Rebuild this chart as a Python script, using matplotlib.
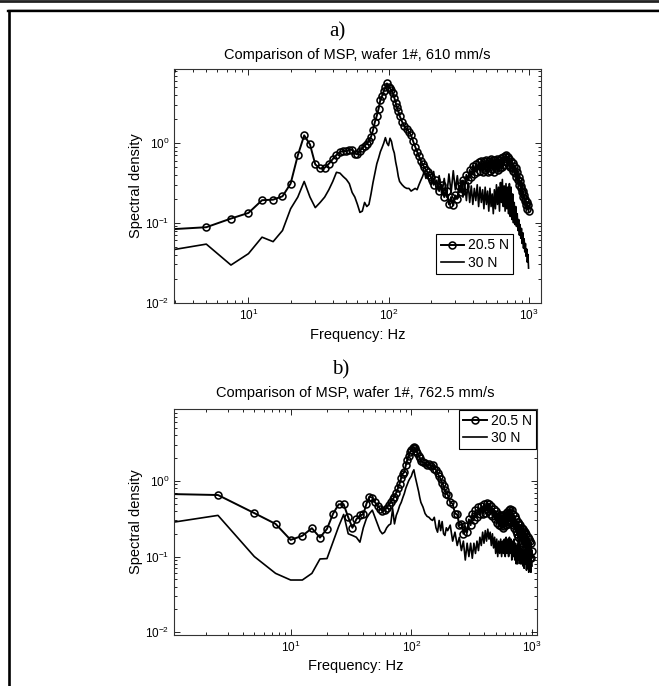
import numpy as np
import matplotlib.pyplot as plt
from matplotlib.lines import Line2D
from matplotlib.ticker import LogLocator, NullFormatter

plt.rcParams['font.family'] = ['Liberation Sans', 'DejaVu Sans']
plt.rcParams['mathtext.fontset'] = 'custom'
plt.rcParams['mathtext.rm'] = 'Liberation Sans'
plt.rcParams['mathtext.default'] = 'regular'

# frequency bins (Hz): fine bins at low f, coarser in the noisy part
freq_lo = np.arange(2.5, 122.5, 2.5)
freq_mid = np.arange(125, 200, 5)
freq_hi = np.arange(200, 1001, 10)
freq_a = np.concatenate([freq_lo, freq_mid, freq_hi])
freq_b = np.concatenate([[1.0], freq_lo, freq_mid, freq_hi])

labels = ["20.5 N", "30 N"]
titles = ["Comparison of MSP, wafer 1#, 610 mm/s",
          "Comparison of MSP, wafer 1#, 762.5 mm/s"]
panel_tags = ["a)", "b)"]

# ---- a) 610 mm/s ----
a_205 = [
    # 2.5 .. 120 Hz
    0.082, 0.088, 0.113, 0.133, 0.192, 0.195, 0.215, 0.31, 0.70, 1.25,
    0.96, 0.54, 0.48, 0.49, 0.55, 0.63, 0.71, 0.77, 0.80, 0.79,
    0.83, 0.82, 0.74, 0.72, 0.80, 0.86, 0.93, 0.98, 1.06, 1.20,
    1.45, 1.85, 2.20, 2.70, 3.50, 3.90, 4.50, 5.00, 5.60, 5.10,
    4.90, 4.60, 4.20, 3.70, 3.20, 2.80, 2.50, 2.20,
    # 125 .. 195 Hz
    1.85, 1.62, 1.50, 1.38, 1.25, 1.05, 0.90, 0.78, 0.68, 0.60,
    0.54, 0.50, 0.46, 0.43, 0.40,
    # 200 .. 1000 Hz
    0.38, 0.30, 0.34, 0.25, 0.30, 0.21, 0.25, 0.17, 0.21, 0.165,
    0.22, 0.20, 0.29, 0.24, 0.34, 0.29, 0.40, 0.34, 0.46, 0.38,
    0.52, 0.41, 0.55, 0.44, 0.58, 0.45, 0.60, 0.44, 0.59, 0.46,
    0.62, 0.44, 0.60, 0.45, 0.63, 0.47, 0.61, 0.43, 0.62, 0.48,
    0.64, 0.46, 0.62, 0.49, 0.65, 0.50, 0.66, 0.53, 0.69, 0.71,
    0.58, 0.67, 0.53, 0.63, 0.50, 0.59, 0.48, 0.56, 0.45, 0.51,
    0.42, 0.48, 0.38, 0.43, 0.34, 0.38, 0.30, 0.33, 0.27, 0.29,
    0.24, 0.25, 0.21, 0.22, 0.185, 0.20, 0.165, 0.18, 0.15, 0.165,
    0.14,
]
a_30 = [
    0.044, 0.054, 0.0295, 0.041, 0.066, 0.058, 0.080, 0.150, 0.21, 0.33,
    0.21, 0.155, 0.18, 0.21, 0.26, 0.33, 0.43, 0.42, 0.38, 0.35,
    0.31, 0.24, 0.21, 0.17, 0.135, 0.14, 0.18, 0.16, 0.17, 0.23,
    0.32, 0.42, 0.55, 0.65, 0.78, 0.88, 1.00, 1.17, 1.00, 0.93,
    1.15, 1.05, 0.85, 0.75, 0.58, 0.48, 0.38, 0.33,
    0.30, 0.28, 0.27, 0.27, 0.25, 0.26, 0.27, 0.26, 0.30, 0.34,
    0.38, 0.44, 0.36, 0.40, 0.33,
    0.30, 0.44, 0.25, 0.39, 0.23, 0.36, 0.21, 0.41, 0.24, 0.45,
    0.26, 0.39, 0.24, 0.34, 0.21, 0.31, 0.19, 0.32, 0.18, 0.29,
    0.17, 0.27, 0.19, 0.30, 0.16, 0.28, 0.18, 0.26, 0.15, 0.28,
    0.17, 0.25, 0.14, 0.27, 0.16, 0.23, 0.13, 0.26, 0.15, 0.30,
    0.17, 0.28, 0.14, 0.32, 0.18, 0.35, 0.16, 0.29, 0.14, 0.31,
    0.15, 0.28, 0.13, 0.31, 0.12, 0.28, 0.11, 0.23, 0.10, 0.18,
    0.095, 0.16, 0.09, 0.13, 0.08, 0.11, 0.07, 0.095, 0.064, 0.085,
    0.055, 0.075, 0.048, 0.063, 0.043, 0.055, 0.038, 0.047, 0.032, 0.04,
    0.027,
]

# ---- b) 762.5 mm/s ----
b_205 = [
    0.67,
    0.65, 0.375, 0.27, 0.166, 0.188, 0.237, 0.178, 0.232, 0.37, 0.49,
    0.49, 0.33, 0.24, 0.31, 0.35, 0.36, 0.50, 0.62, 0.60, 0.52,
    0.47, 0.43, 0.40, 0.41, 0.44, 0.48, 0.52, 0.57, 0.62, 0.70,
    0.80, 0.92, 1.10, 1.25, 1.30, 1.60, 1.90, 2.10, 2.40, 2.55,
    2.70, 2.80, 2.70, 2.50, 2.30, 2.15, 2.00, 1.85,
    1.75, 1.70, 1.62, 1.68, 1.58, 1.62, 1.45, 1.40, 1.28, 1.15,
    1.05, 0.95, 0.85, 0.75, 0.68,
    0.66, 0.52, 0.50, 0.37, 0.36, 0.26, 0.27, 0.20, 0.25, 0.21,
    0.31, 0.26, 0.37, 0.30, 0.41, 0.33, 0.45, 0.36, 0.47, 0.37,
    0.49, 0.38, 0.51, 0.40, 0.50, 0.37, 0.46, 0.34, 0.43, 0.31,
    0.40, 0.28, 0.37, 0.26, 0.35, 0.25, 0.34, 0.24, 0.35, 0.25,
    0.37, 0.26, 0.39, 0.27, 0.41, 0.29, 0.42, 0.28, 0.41, 0.26,
    0.37, 0.24, 0.34, 0.22, 0.31, 0.20, 0.29, 0.18, 0.27, 0.17,
    0.26, 0.16, 0.24, 0.15, 0.23, 0.14, 0.22, 0.13, 0.21, 0.125,
    0.20, 0.115, 0.18, 0.11, 0.17, 0.105, 0.16, 0.095, 0.15, 0.095,
    0.12,
]
b_30 = [
    0.28,
    0.35, 0.10, 0.060, 0.049, 0.049, 0.060, 0.093, 0.094, 0.158, 0.25,
    0.36, 0.20, 0.19, 0.18, 0.155, 0.24, 0.32, 0.37, 0.41, 0.33,
    0.27, 0.22, 0.20, 0.21, 0.24, 0.26, 0.27, 0.43, 0.27, 0.35,
    0.40, 0.47, 0.52, 0.60, 0.68, 0.80, 0.90, 1.00, 1.08, 1.15,
    1.30, 1.40, 1.15, 0.98, 0.85, 0.72, 0.60, 0.52,
    0.45, 0.37, 0.34, 0.33, 0.31, 0.30, 0.33, 0.24, 0.21, 0.30,
    0.22, 0.29, 0.20, 0.19, 0.24,
    0.22, 0.26, 0.16, 0.21, 0.14, 0.18, 0.12, 0.16, 0.09, 0.15,
    0.10, 0.15, 0.095, 0.15, 0.11, 0.16, 0.12, 0.18, 0.14, 0.21,
    0.15, 0.22, 0.16, 0.23, 0.17, 0.21, 0.14, 0.20, 0.13, 0.18,
    0.11, 0.17, 0.10, 0.16, 0.11, 0.17, 0.10, 0.16, 0.11, 0.17,
    0.10, 0.18, 0.11, 0.17, 0.10, 0.18, 0.11, 0.17, 0.09, 0.16,
    0.10, 0.17, 0.09, 0.15, 0.08, 0.14, 0.08, 0.15, 0.09, 0.14,
    0.08, 0.13, 0.08, 0.125, 0.075, 0.12, 0.07, 0.11, 0.08, 0.12,
    0.066, 0.11, 0.07, 0.10, 0.062, 0.095, 0.066, 0.10, 0.062, 0.09,
    0.075,
]

W, H = 659, 686
fig = plt.figure(figsize=(W / 100, H / 100), dpi=100)
fig.patch.set_facecolor("white")


def px_axes(left, top, right, bottom):
    return [left / W, 1 - bottom / H, (right - left) / W, (bottom - top) / H]


ax_a = fig.add_axes(px_axes(174, 69, 541, 302.5))
ax_b = fig.add_axes(px_axes(174, 409, 537, 635))

panels = [
    (ax_a, freq_a, a_205, a_30, (2.94, 1227), (0.01, 8.5)),
    (ax_b, freq_b, b_205, b_30, (1.08, 1100), (0.0092, 8.9)),
]

for i, (ax, f, s1, s2, xl, yl) in enumerate(panels):
    ax.loglog(f, s1, "-o", color="k", lw=1.4, ms=5, mfc="none",
              mec="k", mew=1.15, label=labels[0])
    ax.loglog(f, s2, "-", color="k", lw=1.2, label=labels[1])
    ax.set_xlim(*xl)
    ax.set_ylim(*yl)
    ax.xaxis.set_major_locator(LogLocator(base=10, numticks=10))
    ax.yaxis.set_major_locator(LogLocator(base=10, numticks=10))
    ax.xaxis.set_minor_locator(LogLocator(base=10, subs=np.arange(2, 10), numticks=20))
    ax.yaxis.set_minor_locator(LogLocator(base=10, subs=np.arange(2, 10), numticks=20))
    ax.xaxis.set_minor_formatter(NullFormatter())
    ax.yaxis.set_minor_formatter(NullFormatter())
    ax.tick_params(which="both", direction="in", top=True, right=True,
                   width=0.6, labelsize=8.5, colors="k")
    ax.tick_params(which="major", length=4, pad=3.5)
    ax.tick_params(which="minor", length=2.2)
    for sp in ax.spines.values():
        sp.set_linewidth(0.8)
        sp.set_color("#333333")
    ax.set_title(titles[i], fontsize=10.5, pad=7 if i == 0 else 9)
    ax.set_xlabel("Frequency: Hz", fontsize=10.5)
    ax.set_ylabel("Spectral density", fontsize=10.5)
    ax.xaxis.set_label_coords(0.5, -0.108)
    ax.yaxis.set_label_coords(-0.085, 0.5)

leg_kw = dict(fontsize=10, frameon=True, fancybox=False, framealpha=1,
              edgecolor="k", handlelength=1.7, handletextpad=0.3,
              borderpad=0.3, labelspacing=0.25, borderaxespad=0)
leg_a = ax_a.legend(loc="lower right", bbox_to_anchor=(0.925, 0.122), **leg_kw)
leg_b = ax_b.legend(loc="upper right", bbox_to_anchor=(0.997, 0.997), **leg_kw)
for leg in (leg_a, leg_b):
    leg.get_frame().set_linewidth(0.8)

# panel tags
fig.text(337 / W, 1 - 36 / H, panel_tags[0], family="Liberation Serif",
         fontsize=15, ha="center", va="baseline")
fig.text(341 / W, 1 - 374 / H, panel_tags[1], family="Liberation Serif",
         fontsize=15, ha="center", va="baseline")

# page frame lines around the figure
fig.add_artist(Line2D([0, 1], [1 - 1.3 / H, 1 - 1.3 / H], color="#222222",
                      lw=2.0, transform=fig.transFigure))
fig.add_artist(Line2D([8 / W, 1], [1 - 9 / H, 1 - 9 / H], color="#aaaaaa",
                      lw=0.5, transform=fig.transFigure))
fig.add_artist(Line2D([8 / W, 1], [1 - 11.2 / H, 1 - 11.2 / H], color="k",
                      lw=1.7, transform=fig.transFigure))
fig.add_artist(Line2D([9.3 / W, 9.3 / W], [1 - 10.5 / H, 0], color="k",
                      lw=1.9, transform=fig.transFigure))

fig.savefig("out.png", dpi=100, facecolor="white")
